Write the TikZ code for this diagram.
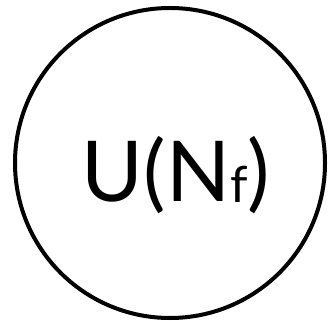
\documentclass[tikz,border=0pt]{standalone}
\usepackage{fontspec}
\setmainfont{Lato}
\tikzset{
groupnode/.style={circle,draw=black,line width=4pt,minimum size=310pt,inner sep=0pt},
grouplabel/.style={inner sep=0pt,font=\fontsize{84}{84}\selectfont}
}
\newcommand{\flavsub}[1]{\raisebox{-1pt}{\fontsize{50}{50}\selectfont #1}}
\begin{document}
\begin{tikzpicture}[x=1pt,y=1pt]
\useasboundingbox (0,0) rectangle (336,320);
\node[groupnode] (flav) at (170,157) {};
\node[grouplabel] (lbl) at (176,145) {U(N\flavsub{f})};
\end{tikzpicture}
\end{document}
